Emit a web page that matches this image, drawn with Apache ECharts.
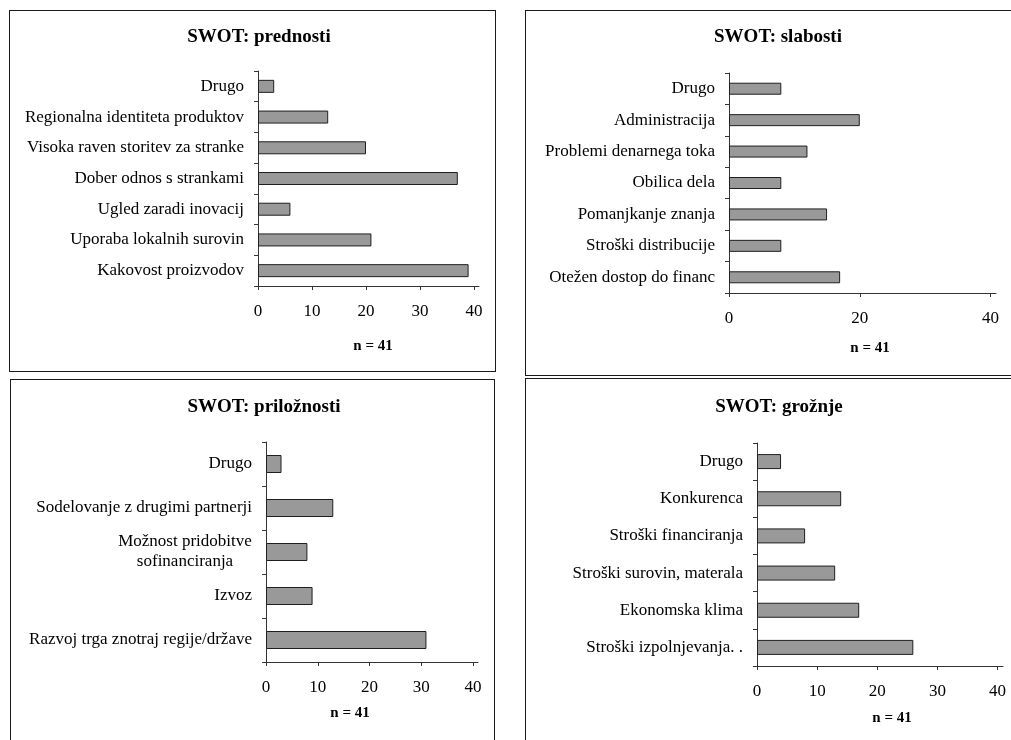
<!DOCTYPE html>
<html>
<head>
<meta charset="utf-8">
<title>SWOT</title>
<script src="https://cdn.jsdelivr.net/npm/echarts@6/dist/echarts.min.js"></script>
<style>
  html, body { margin: 0; padding: 0; background: #fff; width: 1011px; height: 740px; overflow: hidden; }
  .panel { position: absolute; box-sizing: border-box; border: 1px solid #1a1a1a; background: #fff; }
  .panel > div { width: 100%; height: 100%; }
</style>
</head>
<body>
<div class="panel" id="p1" style="left:9px;top:10px;width:487px;height:362px;"><div id="c1"></div></div>
<div class="panel" id="p2" style="left:525px;top:10px;width:500px;height:366px;"><div id="c2"></div></div>
<div class="panel" id="p3" style="left:10px;top:379px;width:485px;height:380px;"><div id="c3"></div></div>
<div class="panel" id="p4" style="left:525px;top:378px;width:500px;height:380px;"><div id="c4"></div></div>
<script>
// ---- data ----
const sampleLabel = 'n = 41';

const prednostiTitle = 'SWOT: prednosti';
const prednostiCats = ['Drugo', 'Regionalna identiteta produktov', 'Visoka raven storitev za stranke',
  'Dober odnos s strankami', 'Ugled zaradi inovacij', 'Uporaba lokalnih surovin', 'Kakovost proizvodov'];
const prednostiVals = [3, 13, 20, 37, 6, 21, 39];

const slabostiTitle = 'SWOT: slabosti';
const slabostiCats = ['Drugo', 'Administracija', 'Problemi denarnega toka', 'Obilica dela',
  'Pomanjkanje znanja', 'Stroški distribucije', 'Otežen dostop do financ'];
const slabostiVals = [8, 20, 12, 8, 15, 8, 17];

const priloznostiTitle = 'SWOT: priložnosti';
const priloznostiCats = ['Drugo', 'Sodelovanje z drugimi partnerji', 'Možnost pridobitve\nsofinanciranja',
  'Izvoz', 'Razvoj trga znotraj regije/države'];
const priloznostiVals = [3, 13, 8, 9, 31];

const groznjeTitle = 'SWOT: grožnje';
const groznjeCats = ['Drugo', 'Konkurenca', 'Stroški financiranja', 'Stroški surovin, materala',
  'Ekonomska klima', 'Stroški izpolnjevanja. .'];
const groznjeVals = [4, 14, 8, 13, 17, 26];

const ticksBy10 = [0, 10, 20, 30, 40];
const ticksBy20 = [0, 20, 40];

// ---- drawing ----
const SERIF = '"Liberation Serif", "Times New Roman", serif';
const LABEL_SIZE = 17;
const AXIS_COLOR = '#333';

function textWidth(str, size, weight) {
  const ctx = document.createElement('canvas').getContext('2d');
  ctx.font = (weight || 'normal') + ' ' + size + 'px ' + SERIF;
  return ctx.measureText(str).width;
}

// Multi-line category names are centred line by line inside a right-aligned block.
function richCategoryLabels(cats) {
  let w = 0;
  cats.forEach(c => {
    if (c.indexOf('\n') >= 0) c.split('\n').forEach(l => { w = Math.max(w, textWidth(l, LABEL_SIZE)); });
  });
  return {
    formatter: v => v.indexOf('\n') >= 0 ? v.split('\n').map(l => '{c|' + l + '}').join('\n') : v,
    rich: { c: { width: Math.ceil(w), align: 'center', fontSize: LABEL_SIZE, fontFamily: SERIF, color: '#000', lineHeight: 20 } }
  };
}

function drawPanel(el, cfg) {
  const chart = echarts.init(document.getElementById(el), null, { renderer: 'canvas' });
  const g = cfg.grid;
  const rich = richCategoryLabels(cfg.cats);
  chart.setOption({
    animation: false,
    backgroundColor: '#fff',
    grid: { left: g.left, top: g.top, width: g.width, height: g.height, containLabel: false },
    xAxis: {
      type: 'value',
      min: 0,
      max: cfg.ticks[cfg.ticks.length - 1] * g.width / g.span,
      interval: cfg.ticks[1] - cfg.ticks[0],
      splitLine: { show: false },
      axisLine: { show: true, lineStyle: { color: AXIS_COLOR, width: 1 } },
      axisTick: { show: true, length: 4, customValues: cfg.ticks, lineStyle: { color: AXIS_COLOR } },
      axisLabel: { customValues: cfg.ticks, margin: 17, fontSize: LABEL_SIZE, fontFamily: SERIF, color: '#000' }
    },
    yAxis: {
      type: 'category',
      inverse: true,
      data: cfg.cats,
      axisLine: { show: true, lineStyle: { color: AXIS_COLOR, width: 1 } },
      axisTick: { show: true, length: 4, lineStyle: { color: AXIS_COLOR } },
      axisLabel: {
        margin: 14, fontSize: LABEL_SIZE, fontFamily: SERIF, color: '#000', lineHeight: 20,
        formatter: rich.formatter, rich: rich.rich
      }
    },
    series: [{
      type: 'bar',
      data: cfg.vals,
      barWidth: cfg.barWidth,
      itemStyle: { color: '#999999', borderColor: '#1f1f1f', borderWidth: 1 }
    }],
    graphic: [
      { type: 'text', x: cfg.titlePos[0], y: cfg.titlePos[1],
        style: { text: cfg.title, font: 'bold 19px ' + SERIF, fill: '#000', align: 'center', verticalAlign: 'middle' } },
      { type: 'text', x: cfg.nPos[0], y: cfg.nPos[1],
        style: { text: sampleLabel, font: 'bold 15px ' + SERIF, fill: '#000', align: 'center', verticalAlign: 'middle' } }
    ]
  });
}

drawPanel('c1', {
  title: prednostiTitle, cats: prednostiCats, vals: prednostiVals, ticks: ticksBy10,
  grid: { left: 248, top: 60, width: 221, height: 215, span: 216 },
  barWidth: 13, titlePos: [249, 26], nPos: [363, 335]
});
drawPanel('c2', {
  title: slabostiTitle, cats: slabostiCats, vals: slabostiVals, ticks: ticksBy20,
  grid: { left: 203, top: 62, width: 267, height: 220, span: 261.5 },
  barWidth: 12, titlePos: [252, 26], nPos: [344, 337]
});
drawPanel('c3', {
  title: priloznostiTitle, cats: priloznostiCats, vals: priloznostiVals, ticks: ticksBy10,
  grid: { left: 255, top: 62, width: 212, height: 220, span: 207 },
  barWidth: 18, titlePos: [253, 27], nPos: [339, 333]
});
drawPanel('c4', {
  title: groznjeTitle, cats: groznjeCats, vals: groznjeVals, ticks: ticksBy10,
  grid: { left: 231, top: 64, width: 246, height: 223, span: 240.5 },
  barWidth: 15, titlePos: [253, 28], nPos: [366, 339]
});
</script>
</body>
</html>
